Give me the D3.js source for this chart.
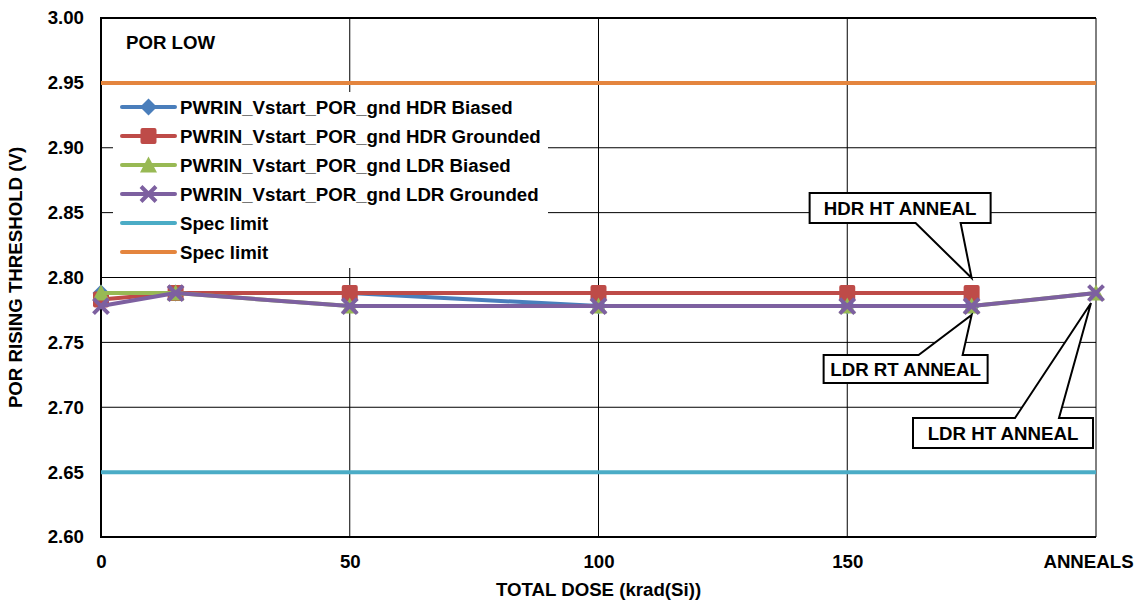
<!DOCTYPE html>
<html>
<head>
<meta charset="utf-8">
<script src="https://cdn.jsdelivr.net/npm/d3@7"></script>
<style>
  html, body { margin: 0; padding: 0; background: #fff; }
  svg { display: block; font-family: "Liberation Sans", Arial, sans-serif; font-weight: bold; }
</style>
</head>
<body>
<svg id="chart" width="1134" height="600"></svg>
<script>
// ---- data ----
const doses = [0, 15, 50, 100, 150, 175, 200];
const xTickValues = [0, 50, 100, 150, 200];
const xTickLabels = ["0", "50", "100", "150", "ANNEALS"];
const yTickValues = [2.60, 2.65, 2.70, 2.75, 2.80, 2.85, 2.90, 2.95, 3.00];

const hdrBiased    = [2.788, 2.788, 2.788, 2.778, 2.778, 2.778];
const hdrGrounded  = [2.783, 2.788, 2.788, 2.788, 2.788, 2.788];
const ldrBiased    = [2.788, 2.788, 2.778, 2.778, 2.778, 2.778, 2.788];
const ldrGrounded  = [2.778, 2.788, 2.778, 2.778, 2.778, 2.778, 2.788];
const specLow  = 2.65;
const specHigh = 2.95;

const seriesNames = [
  "PWRIN_Vstart_POR_gnd HDR Biased",
  "PWRIN_Vstart_POR_gnd HDR Grounded",
  "PWRIN_Vstart_POR_gnd LDR Biased",
  "PWRIN_Vstart_POR_gnd LDR Grounded",
  "Spec limit",
  "Spec limit"
];
const seriesColors = ["#4A7EBB", "#BE4B48", "#98B954", "#7D60A0", "#4BACC6", "#E4853E"];
const seriesMarkers = ["diamond", "square", "triangle", "x", null, null];

const callouts = [
  { label: "HDR HT ANNEAL", dose: 175, value: 2.788 },
  { label: "LDR RT ANNEAL", dose: 175, value: 2.778 },
  { label: "LDR HT ANNEAL", dose: 200, value: 2.788 }
];

// ---- layout ----
const W = 1134, H = 600;
const FS = 18.67;
const margin = { left: 101, right: 38, top: 18, bottom: 63 };
const iw = W - margin.left - margin.right;
const ih = H - margin.top - margin.bottom;

const svg = d3.select("#chart");
const g = svg.append("g").attr("transform", `translate(${margin.left},${margin.top})`);

const x = d3.scaleLinear().domain([0, 200]).range([0, iw]);
const y = d3.scaleLinear().domain([2.60, 3.00]).range([ih, 0]);

// gridlines
g.append("g").selectAll("line.h").data(yTickValues).join("line")
  .attr("x1", 0).attr("x2", iw)
  .attr("y1", d => y(d)).attr("y2", d => y(d))
  .attr("stroke", "#000").attr("stroke-width", 1);
g.append("g").selectAll("line.v").data(xTickValues).join("line")
  .attr("y1", 0).attr("y2", ih)
  .attr("x1", d => x(d)).attr("x2", d => x(d))
  .attr("stroke", "#000").attr("stroke-width", 1);

// frame (left, top, bottom)
g.append("path")
  .attr("d", `M${iw},0 H0 V${ih} H${iw}`)
  .attr("fill", "none").attr("stroke", "#000").attr("stroke-width", 2);

// axes
const yAxis = d3.axisLeft(y).tickValues(yTickValues).tickFormat(d3.format(".2f")).tickSize(0).tickPadding(17);
const ya = g.append("g").call(yAxis);
ya.select(".domain").remove();
ya.selectAll("text").attr("font-size", FS).attr("font-weight", "bold")
  .attr("font-family", "Liberation Sans, Arial, sans-serif").attr("fill", "#000");

const xAxis = d3.axisBottom(x).tickValues(xTickValues).tickFormat((d, i) => xTickLabels[i]).tickSize(0).tickPadding(18);
const xa = g.append("g").attr("transform", `translate(0,${ih})`).call(xAxis);
xa.select(".domain").remove();
xa.selectAll("text").attr("font-size", FS).attr("font-weight", "bold")
  .attr("font-family", "Liberation Sans, Arial, sans-serif").attr("fill", "#000");
xa.selectAll(".tick").filter(d => d === 200).select("text").attr("dx", -8);

// axis titles
svg.append("text")
  .attr("transform", `translate(22,${margin.top + ih / 2}) rotate(-90)`)
  .attr("text-anchor", "middle").attr("font-size", FS).attr("fill", "#000")
  .text("POR RISING THRESHOLD (V)");
svg.append("text")
  .attr("x", margin.left + x(100)).attr("y", 596)
  .attr("text-anchor", "middle").attr("font-size", FS).attr("fill", "#000")
  .text("TOTAL DOSE (krad(Si))");

// spec limits
[specLow, specHigh].forEach((v, i) => {
  g.append("line")
    .attr("x1", x(0)).attr("x2", x(200))
    .attr("y1", y(v)).attr("y2", y(v))
    .attr("stroke", seriesColors[4 + i]).attr("stroke-width", 4);
});

// marker drawing
function drawMarker(sel, type, color) {
  if (type === "diamond") {
    sel.append("path").attr("d", "M0,-8.5 L8.5,0 L0,8.5 L-8.5,0 Z").attr("fill", color);
  } else if (type === "square") {
    sel.append("rect").attr("x", -8).attr("y", -8).attr("width", 16).attr("height", 16)
      .attr("rx", 2).attr("fill", color);
  } else if (type === "triangle") {
    sel.append("path").attr("d", "M0,-8.5 L8.5,7.5 L-8.5,7.5 Z").attr("fill", color);
  } else if (type === "x") {
    sel.append("path").attr("d", "M-7.5,-7.5 L7.5,7.5 M-7.5,7.5 L7.5,-7.5")
      .attr("stroke", color).attr("stroke-width", 4).attr("fill", "none");
  }
}

const dataSeries = [hdrBiased, hdrGrounded, ldrBiased, ldrGrounded];
const line = d3.line().x(d => x(d[0])).y(d => y(d[1]));
dataSeries.forEach((vals, i) => {
  const pts = vals.map((v, j) => [doses[j], v]);
  g.append("path").datum(pts).attr("d", line)
    .attr("fill", "none").attr("stroke", seriesColors[i]).attr("stroke-width", 4)
    .attr("stroke-linejoin", "round");
  pts.forEach(p => {
    const m = g.append("g").attr("transform", `translate(${x(p[0])},${y(p[1])})`);
    drawMarker(m, seriesMarkers[i], seriesColors[i]);
  });
});

// POR LOW label
g.append("text").attr("x", 25).attr("y", 31).attr("font-size", FS).attr("fill", "#000").text("POR LOW");

// legend
const lg = svg.append("g");
lg.append("rect").attr("x", 113).attr("y", 92).attr("width", 435).attr("height", 176).attr("fill", "#fff");
seriesNames.forEach((name, i) => {
  const yy = 107 + i * 29;
  lg.append("line").attr("x1", 122).attr("x2", 175).attr("y1", yy).attr("y2", yy)
    .attr("stroke", seriesColors[i]).attr("stroke-width", 4).attr("stroke-linecap", "round");
  if (seriesMarkers[i]) {
    const m = lg.append("g").attr("transform", `translate(148.5,${yy})`);
    drawMarker(m, seriesMarkers[i], seriesColors[i]);
  }
  lg.append("text").attr("x", 180).attr("y", yy).attr("dy", "0.35em")
    .attr("font-size", FS).attr("fill", "#000").text(name);
});

// callouts (box offsets relative to the pointed data point)
const calloutGeom = [
  { bx0: -162, bx1: 19, by0: -100, by1: -70, side: "bottom", f0: -56, f1: -11, tipDy: -15, tipDx: 0 },
  { bx0: -148, bx1: 16, by0: 49, by1: 77, side: "top", f0: -53, f1: -9, tipDy: 9, tipDx: 0 },
  { bx0: -183, bx1: -3, by0: 125, by1: 155, side: "top", f0: -81, f1: -37, tipDy: 10, tipDx: -5 }
];
callouts.forEach((c, i) => {
  const px = margin.left + x(c.dose), py = margin.top + y(c.value);
  const k = calloutGeom[i];
  const x0 = px + k.bx0, x1 = px + k.bx1, y0 = py + k.by0, y1 = py + k.by1;
  const tx = px + k.tipDx, ty = py + k.tipDy;
  const a = px + k.f0, b = px + k.f1;
  let d;
  if (k.side === "bottom") {
    d = `M${x0},${y0} H${x1} V${y1} H${b} L${tx},${ty} L${a},${y1} H${x0} Z`;
  } else {
    d = `M${x0},${y0} H${a} L${tx},${ty} L${b},${y0} H${x1} V${y1} H${x0} Z`;
  }
  svg.append("path").attr("d", d).attr("fill", "#fff").attr("stroke", "#000")
    .attr("stroke-width", 2).attr("stroke-linejoin", "miter");
  svg.append("text").attr("x", (x0 + x1) / 2).attr("y", (y0 + y1) / 2).attr("dy", "0.36em")
    .attr("text-anchor", "middle").attr("font-size", FS).attr("fill", "#000").text(c.label);
});
</script>
</body>
</html>
